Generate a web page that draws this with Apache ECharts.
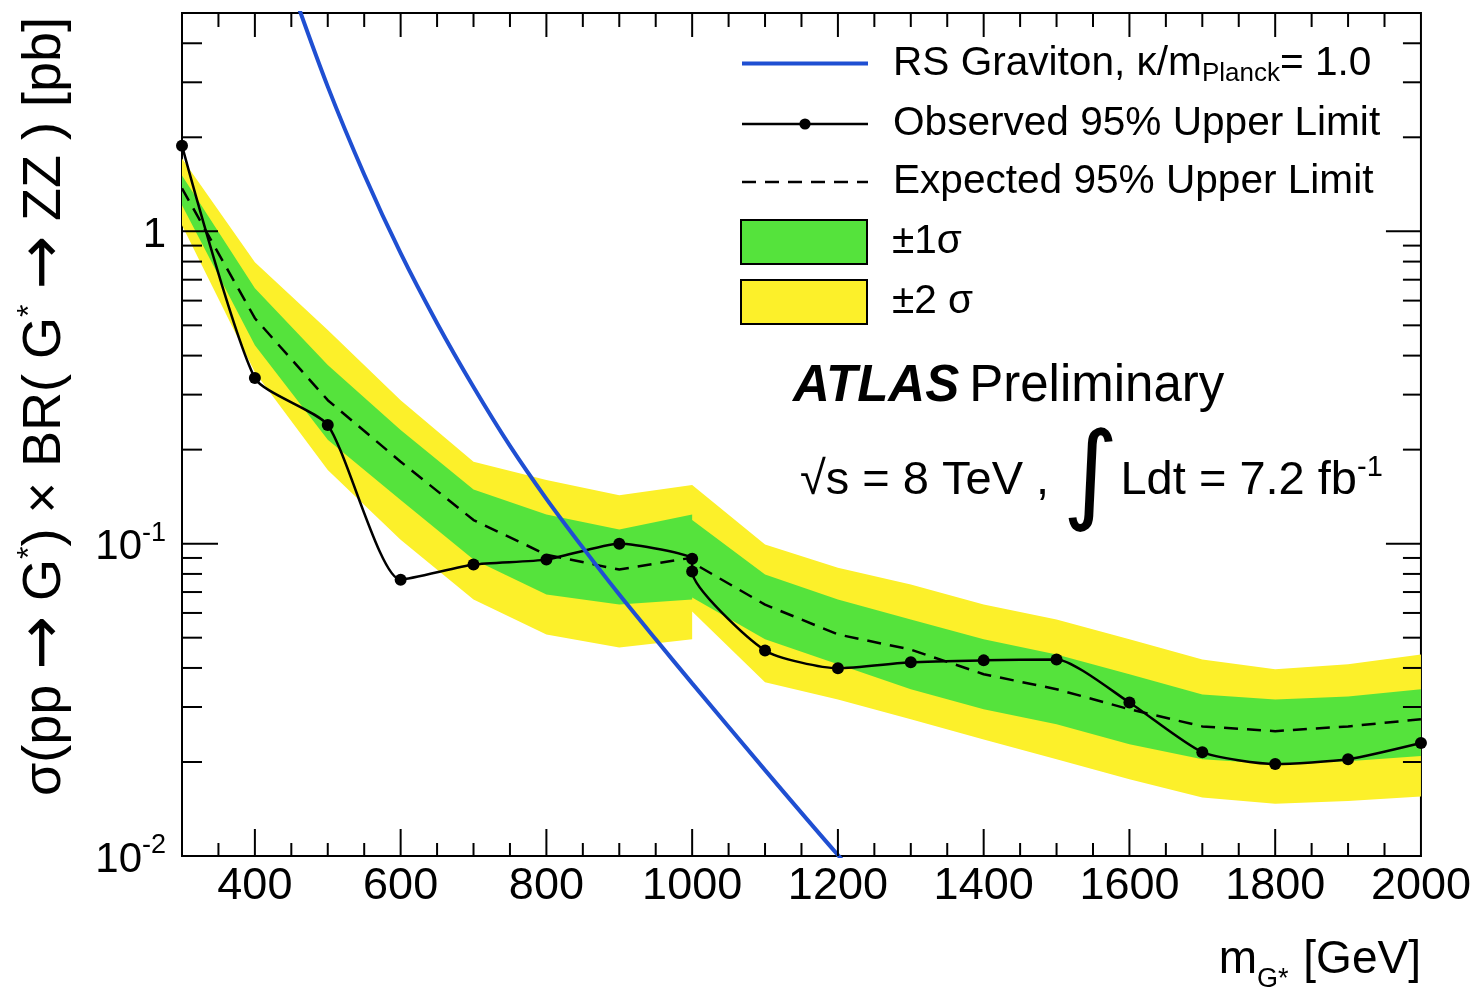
<!DOCTYPE html>
<html>
<head>
<meta charset="utf-8">
<script src="https://cdn.jsdelivr.net/npm/echarts@6/dist/echarts.min.js"></script>
<style>
  html, body { margin: 0; padding: 0; background: #fff; }
  #chart { width: 1474px; height: 1001px; }
</style>
</head>
<body>
<div id="chart"></div>
<script>
// Graviton mass points [GeV]; 1000 GeV appears twice where the two analyses meet
const mass = [300, 400, 500, 600, 700, 800, 900, 1000, 1000, 1100, 1200, 1300, 1400, 1500, 1600, 1700, 1800, 1900, 2000];

// Observed 95% CL upper limit [pb]
const observed = [1.88, 0.339, 0.240, 0.0767, 0.0857, 0.0889, 0.100, 0.0894, 0.0814, 0.0455, 0.0399, 0.0417, 0.0423, 0.0426, 0.0310, 0.0215, 0.0197, 0.0204, 0.0230];

// Expected 95% CL upper limit and its ±1σ / ±2σ bands [pb]
const expected = [1.372, 0.527, 0.288, 0.183, 0.119, 0.0922, 0.0826, 0.0902, 0.0870, 0.0638, 0.0512, 0.0458, 0.0382, 0.0342, 0.0295, 0.0260, 0.0251, 0.0260, 0.0274];
const plus2 = [1.711, 0.796, 0.483, 0.288, 0.183, 0.160, 0.143, 0.154, 0.154, 0.0993, 0.0838, 0.0740, 0.0638, 0.0572, 0.0494, 0.0426, 0.0396, 0.0411, 0.0442];
const plus1 = [1.510, 0.657, 0.373, 0.231, 0.149, 0.124, 0.111, 0.124, 0.119, 0.0796, 0.0662, 0.0572, 0.0494, 0.0442, 0.0382, 0.0329, 0.0317, 0.0324, 0.0342];
const minus1 = [1.211, 0.432, 0.215, 0.138, 0.0889, 0.0687, 0.0638, 0.0662, 0.0672, 0.0494, 0.0411, 0.0342, 0.0295, 0.0264, 0.0228, 0.0204, 0.0197, 0.0201, 0.0209];
const minus2 = [1.045, 0.354, 0.172, 0.103, 0.0662, 0.0512, 0.0465, 0.0494, 0.0606, 0.0360, 0.0317, 0.0274, 0.0236, 0.0204, 0.0176, 0.0154, 0.0147, 0.0150, 0.0155];

// RS graviton theory prediction, k/mPl = 1.0
const theoryMass = [450, 500, 550, 600, 650, 700, 750, 800, 850, 900, 950, 1000, 1100, 1200, 1300];
const theoryXsec = [6.06, 2.906, 1.521, 0.851, 0.508, 0.3174, 0.2056, 0.1392, 0.0971, 0.0687, 0.0494, 0.0357, 0.01883, 0.01007, 0.00551];

// Axis ranges
const X_MIN = 300, X_MAX = 2000;
const Y_MIN = 0.01, Y_MAX = 5;
const yDecades = [0.01, 0.1, 1];

const FONT = '"Liberation Sans", Arial, Helvetica, sans-serif';
const GREEN = '#55e33c';
const YELLOW = '#fcf02a';
const BLUE = '#1f4fd2';

// Tick positions for the frame (ROOT style: inside, on all four sides)
const xTicks = [];
for (let m = X_MIN + 50; m < X_MAX; m += 50) xTicks.push([m, Y_MIN, m % 200 === 0 ? 1 : 0]);
const yTicks = [];
yDecades.forEach(d => {
  for (let k = 1; k <= 9; k++) {
    const v = +(k * d).toPrecision(3);
    if (v > Y_MIN && v < Y_MAX) yTicks.push([X_MIN, v, k === 1 ? 1 : 0]);
  }
});

function bandRenderer(upper, lower, color) {
  return function (params, api) {
    const pts = [];
    for (let i = 0; i < mass.length; i++) pts.push(api.coord([mass[i], upper[i]]));
    for (let i = mass.length - 1; i >= 0; i--) pts.push(api.coord([mass[i], lower[i]]));
    return { type: 'polygon', shape: { points: pts }, style: { fill: color } };
  };
}

const tickStyle = { stroke: '#000', lineWidth: 2 };
const plain = { fontFamily: FONT, color: '#000', fontWeight: 'normal' };

const chart = echarts.init(document.getElementById('chart'));
chart.setOption({
  animation: false,
  backgroundColor: '#fff',
  textStyle: { fontFamily: FONT },
  grid: {
    left: 182, right: 52, top: 13, bottom: 145,
    show: true, borderColor: '#000', borderWidth: 2, backgroundColor: 'transparent'
  },
  title: [
    {
      text: '{a|ATLAS}  {b|Preliminary}',
      left: 793, top: 361, padding: 0,
      textStyle: {
        fontWeight: 'normal',
        rich: {
          a: Object.assign({}, plain, { fontSize: 51, fontWeight: 'bold', fontStyle: 'italic' }),
          b: Object.assign({}, plain, { fontSize: 51 })
        }
      }
    },
    {
      text: '{t|√s = 8 TeV , }{i|∫}{t|Ldt = 7.2 fb}{s|-1}',
      left: 800, top: 420, padding: 0,
      textStyle: {
        fontWeight: 'normal',
        rich: {
          t: Object.assign({}, plain, { fontSize: 47, lineHeight: 122 }),
          i: Object.assign({}, plain, { fontFamily: '"DejaVu Sans", sans-serif', fontSize: 108, lineHeight: 122, padding: [0, 2, 0, 0] }),
          s: Object.assign({}, plain, { fontSize: 29, verticalAlign: 'top', padding: [33, 0, 0, 0] })
        }
      }
    }
  ],
  legend: [
    {
      orient: 'vertical', left: 740, top: 43, padding: 0,
      itemWidth: 126, itemHeight: 14, itemGap: 17,
      selectedMode: false,
      data: [
        { name: 'RS Graviton, κ/mPlanck= 1.0', itemStyle: { opacity: 0 }, lineStyle: { width: 4, color: BLUE } },
        { name: 'Observed 95% Upper Limit', lineStyle: { width: 2.5, color: '#000' } },
        { name: 'Expected 95% Upper Limit', itemStyle: { opacity: 0 }, lineStyle: { width: 2.5, color: '#000', type: [14, 9] } }
      ],
      formatter: function (name) {
        if (name.indexOf('RS') === 0) return '{t|RS Graviton, κ/m}{sub|Planck}{t|= 1.0}';
        return '{t|' + name + '}';
      },
      textStyle: {
        padding: [0, 0, 0, 20],
        rich: {
          t: Object.assign({}, plain, { fontSize: 40.6, lineHeight: 46 }),
          sub: Object.assign({}, plain, { fontSize: 26, verticalAlign: 'bottom', lineHeight: 46 })
        }
      }
    },
    {
      orient: 'vertical', left: 740, top: 219, padding: 0,
      itemWidth: 126, itemHeight: 44, itemGap: 14,
      selectedMode: false,
      data: [
        { name: '±1σ', icon: 'rect', itemStyle: { borderColor: '#000', borderWidth: 2 } },
        { name: '±2 σ', icon: 'rect', itemStyle: { borderColor: '#000', borderWidth: 2 } }
      ],
      textStyle: Object.assign({}, plain, { fontSize: 40.6, lineHeight: 46, padding: [0, 0, 0, 20] })
    }
  ],
  xAxis: {
    type: 'value', min: X_MIN, max: X_MAX, interval: 100,
    axisLine: { show: true, lineStyle: { color: '#000', width: 2 } },
    axisTick: { show: false },
    splitLine: { show: false },
    axisLabel: {
      color: '#000', fontFamily: FONT, fontSize: 45, margin: 8,
      formatter: v => (v % 200 === 0 ? String(v) : '')
    },
    name: 'm{sub|G*} [GeV]',
    nameLocation: 'end', nameGap: 0,
    nameTextStyle: {
      color: '#000', fontFamily: FONT, fontSize: 46, align: 'right', verticalAlign: 'top',
      padding: [81, 0, 0, 0],
      rich: { sub: Object.assign({}, plain, { fontSize: 27, verticalAlign: 'bottom', padding: [0, 2, -10, 0] }) }
    }
  },
  yAxis: {
    type: 'log', logBase: 10, min: Y_MIN, max: Y_MAX,
    axisLine: { show: true, lineStyle: { color: '#000', width: 2 } },
    axisTick: { show: false },
    splitLine: { show: false },
    axisLabel: {
      color: '#000', margin: 16,
      formatter: function (v) {
        const e = Math.log10(v);
        const r = Math.round(e);
        if (Math.abs(e - r) > 1e-6) return '';
        if (r === 0) return '{b|1}';
        return '{b|10}{s|' + r + '}';
      },
      rich: {
        b: Object.assign({}, plain, { fontSize: 42, lineHeight: 48, padding: [8, 0, 0, 0] }),
        s: Object.assign({}, plain, { fontSize: 27, verticalAlign: 'top', lineHeight: 48 })
      }
    },
    name: '{t|σ(pp }{a|→}{t| G}{s|*}{t|) × BR( G}{s|*}{t| }{a|→}{t| ZZ ) [pb]}',
    nameLocation: 'middle', nameGap: 106, nameRotate: 90,
    nameTextStyle: {
      color: '#000', fontFamily: FONT, fontSize: 54,
      padding: [0, 0, 0, 56],
      rich: {
        t: Object.assign({}, plain, { fontSize: 54, lineHeight: 62 }),
        a: Object.assign({}, plain, { fontFamily: '"DejaVu Sans", sans-serif', fontSize: 64, lineHeight: 62 }),
        s: Object.assign({}, plain, { fontSize: 32, verticalAlign: 'top', lineHeight: 62 })
      }
    }
  },
  series: [
    {
      name: '±2 σ', type: 'custom', silent: true, clip: true, z: 1,
      itemStyle: { color: YELLOW },
      data: [[mass[0], expected[0]]],
      renderItem: bandRenderer(plus2, minus2, YELLOW)
    },
    {
      name: '±1σ', type: 'custom', silent: true, clip: true, z: 2,
      itemStyle: { color: GREEN },
      data: [[mass[0], expected[0]]],
      renderItem: bandRenderer(plus1, minus1, GREEN)
    },
    {
      name: 'Expected 95% Upper Limit', type: 'line', z: 3,
      data: mass.map((m, i) => [m, expected[i]]),
      symbol: 'none', smooth: false,
      lineStyle: { color: '#000', width: 2.5, type: [14, 9] },
      itemStyle: { color: '#000' }
    },
    {
      name: 'Observed 95% Upper Limit', type: 'line', z: 4,
      data: mass.map((m, i) => [m, observed[i]]),
      symbol: 'circle', symbolSize: 12, smooth: 0.2,
      lineStyle: { color: '#000', width: 2.5 },
      itemStyle: { color: '#000' }
    },
    {
      name: 'RS Graviton, κ/mPlanck= 1.0', type: 'line', z: 5,
      data: theoryMass.map((m, i) => [m, theoryXsec[i]]),
      symbol: 'none', smooth: 0.3, clip: true,
      lineStyle: { color: BLUE, width: 4 },
      itemStyle: { color: BLUE }
    },
    {
      name: 'xTicks', type: 'custom', silent: true, z: 10,
      encode: { x: 0, y: 1 },
      data: xTicks,
      renderItem: function (params, api) {
        const major = api.value(2) === 1;
        const b = api.coord([api.value(0), Y_MIN]);
        const t = api.coord([api.value(0), Y_MAX]);
        const lb = major ? 27 : 13, lt = major ? 24 : 14;
        return {
          type: 'group', children: [
            { type: 'line', shape: { x1: b[0], y1: b[1], x2: b[0], y2: b[1] - lb }, style: tickStyle },
            { type: 'line', shape: { x1: t[0], y1: t[1], x2: t[0], y2: t[1] + lt }, style: tickStyle }
          ]
        };
      }
    },
    {
      name: 'yTicks', type: 'custom', silent: true, z: 10,
      encode: { x: 0, y: 1 },
      data: yTicks,
      renderItem: function (params, api) {
        const major = api.value(2) === 1;
        const l = api.coord([X_MIN, api.value(1)]);
        const r = api.coord([X_MAX, api.value(1)]);
        const ll = major ? 36 : 20, lr = major ? 35 : 18;
        return {
          type: 'group', children: [
            { type: 'line', shape: { x1: l[0], y1: l[1], x2: l[0] + ll, y2: l[1] }, style: tickStyle },
            { type: 'line', shape: { x1: r[0], y1: r[1], x2: r[0] - lr, y2: r[1] }, style: tickStyle }
          ]
        };
      }
    }
  ]
});
</script>
</body>
</html>
